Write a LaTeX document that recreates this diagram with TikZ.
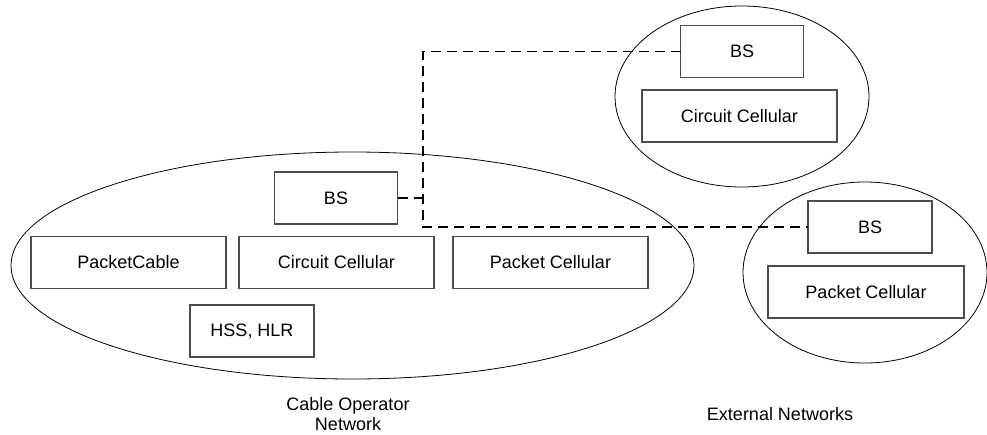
\documentclass[tikz,border=0pt]{standalone}
\usepackage{fontspec}
\setmainfont{Liberation Sans}
\usetikzlibrary{shapes.geometric}
\begin{document}
\begin{tikzpicture}[x=1pt,y=-1pt,
  box/.style={draw=black!70, line width=1.1pt, rectangle, minimum height=52pt, inner sep=0pt, outer sep=0pt, font=\fontsize{18}{20}\selectfont},
  net/.style={draw=black, line width=0.8pt, ellipse, inner sep=0pt, outer sep=0pt},
  link/.style={draw=black, line width=1.4pt, dash pattern=on 10pt off 6pt},
  lbl/.style={align=center, font=\fontsize{18}{20}\selectfont, inner sep=0pt}]
\useasboundingbox (0,0) rectangle (987,434);
% network ellipses
\node[net, minimum width=683pt, minimum height=227pt] (cable) at (352.5,265.5) {};
\node[net, minimum width=254pt, minimum height=181pt] (ext1) at (742,96.5) {};
\node[net, minimum width=244pt, minimum height=181pt] (ext2) at (865,272.5) {};
% boxes in cable operator network
\node[box, minimum width=123pt] (bs1) at (336,198) {BS};
\node[box, minimum width=195pt] (pcab) at (128.5,262.5) {PacketCable};
\node[box, minimum width=195pt] (cc1) at (336.5,262.5) {Circuit Cellular};
\node[box, minimum width=195pt] (pc1) at (550.5,262.5) {Packet Cellular};
\node[box, minimum width=124pt] (hss) at (252,331) {HSS, HLR};
% boxes in external networks
\node[box, minimum width=123pt] (bs2) at (742,51.5) {BS};
\node[box, minimum width=195pt] (cc2) at (739.5,116) {Circuit Cellular};
\node[box, minimum width=124pt] (bs3) at (870,227) {BS};
\node[box, minimum width=196pt] (pc3) at (866,292) {Packet Cellular};
% labels
\node[lbl] (lcable) at (348,414) {Cable Operator\\Network};
\node[lbl] (lext) at (780,414) {External Networks};
% dashed links
\coordinate (j1) at (423,51.5);
\coordinate (j2) at (423,227);
\draw[link] (bs1.east) -- (bs1.east -| j1);
\draw[link] (bs2.west) -- (j1) -- (j2) -- (bs3.west);
\end{tikzpicture}
\end{document}
